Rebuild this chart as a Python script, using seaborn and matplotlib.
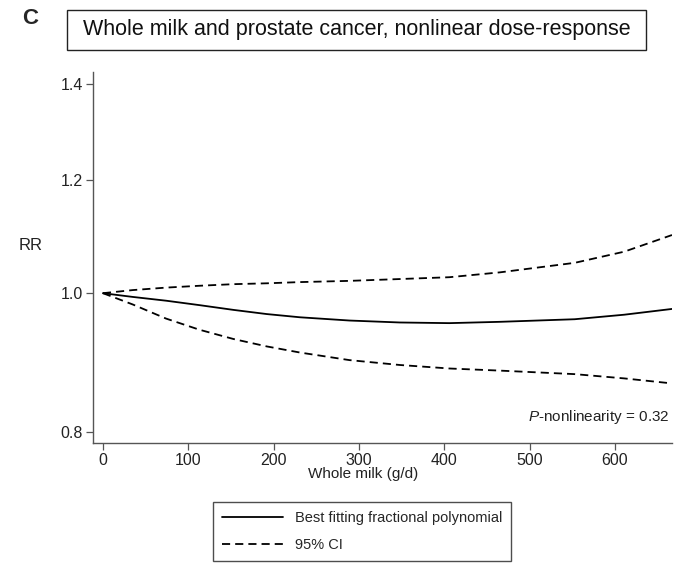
import numpy as np
import pandas as pd
import matplotlib
matplotlib.use("Agg")
import matplotlib.pyplot as plt
import matplotlib.patches as mpatches
from matplotlib.lines import Line2D
import seaborn as sns

# ---- data ----
milk_g_per_day = [0, 35, 74, 113, 153, 192, 231, 289, 348, 406, 465, 553, 611, 667]
rr_fit = [1.000, 0.994, 0.988, 0.981, 0.9735, 0.967, 0.962, 0.957, 0.954, 0.953, 0.955, 0.959, 0.966, 0.975]
rr_upper = [1.000, 1.005, 1.009, 1.012, 1.0146, 1.016, 1.018, 1.020, 1.023, 1.026, 1.034, 1.050, 1.069, 1.098]
rr_lower = [1.000, 0.982, 0.960, 0.943, 0.929, 0.918, 0.909, 0.898, 0.891, 0.886, 0.883, 0.878, 0.872, 0.865]
x_ticks = [0, 100, 200, 300, 400, 500, 600]
y_ticks = [0.8, 1.0, 1.2, 1.4]
y_tick_labels = ["0.8", "1.0", "1.2", "1.4"]
panel_letter = "C"
title_text = "Whole milk and prostate cancer, nonlinear dose-response"
x_label = "Whole milk (g/d)"
y_label = "RR"
p_text = r"$\mathit{P}$-nonlinearity = 0.32"
legend_labels = ["Best fitting fractional polynomial", "95% CI"]

sns.set_theme(style="ticks")
plt.rcParams["font.family"] = ["Liberation Sans", "DejaVu Sans"]
plt.rcParams["mathtext.fontset"] = "custom"
plt.rcParams["mathtext.it"] = "Liberation Sans:italic"
plt.rcParams["mathtext.rm"] = "Liberation Sans"

df = pd.DataFrame({"x": milk_g_per_day, "fit": rr_fit, "upper": rr_upper, "lower": rr_lower})

fig = plt.figure(figsize=(6.75, 5.65), dpi=100)
W, H = 675, 565
left, right, bottom, top = 92.7, 672, 443, 72.4
ax = fig.add_axes([left / W, 1 - bottom / H, (right - left) / W, (bottom - top) / H])

dash = (0, (4.5, 2.8))
sns.lineplot(data=df, x="x", y="fit", ax=ax, color="black", lw=1.3, legend=False)
sns.lineplot(data=df, x="x", y="upper", ax=ax, color="black", lw=1.3, legend=False)
sns.lineplot(data=df, x="x", y="lower", ax=ax, color="black", lw=1.3, legend=False)
ax.lines[1].set_linestyle(dash)
ax.lines[2].set_linestyle(dash)
for ln in ax.lines:
    ln.set_solid_joinstyle("round")
    ln.set_dash_joinstyle("round")

ax.set_yscale("log")
ax.set_xlim(-12, 667)
ax.set_ylim(0.786, 1.426)
ax.set_yticks(y_ticks)
ax.set_yticklabels(y_tick_labels)
ax.yaxis.set_minor_locator(matplotlib.ticker.NullLocator())
ax.set_xticks(x_ticks)
ax.set_xticklabels([str(t) for t in x_ticks])

for s in ["top", "right"]:
    ax.spines[s].set_visible(False)
for s in ["left", "bottom"]:
    ax.spines[s].set_color("#555555")
    ax.spines[s].set_linewidth(1.0)
ax.tick_params(axis="both", length=5, width=0.9, color="#555555", labelsize=11.5,
               labelcolor="#222222", pad=2)

ax.set_xlabel(x_label, fontsize=11, color="#222222")
ax.xaxis.set_label_coords((363 - left) / (right - left), -(474 - bottom) / (bottom - top))
ax.xaxis.label.set_va("center")
ax.set_ylabel(y_label, fontsize=12, color="#222222", rotation=0)
ax.yaxis.set_label_coords((31 - left) / (right - left), (bottom - 246) / (bottom - top))
ax.yaxis.label.set_va("center")
ax.yaxis.label.set_ha("center")

ax.text(0.995, 0.07, p_text, transform=ax.transAxes, ha="right", va="center",
        fontsize=11, color="#222222")

# panel letter and title box
fig.text(22 / W, 1 - 18 / H, panel_letter, fontsize=16, fontweight="bold", ha="left", va="center")
box = mpatches.Rectangle((67 / W, 1 - 50 / H), (646 - 67) / W, 40 / H, transform=fig.transFigure,
                         fill=False, edgecolor="#222222", lw=1.0)
fig.add_artist(box)
fig.text((67 + 646) / 2 / W, 1 - 30 / H, title_text, fontsize=15.5, ha="center", va="center",
         color="#111111")

handles = [Line2D([], [], color="black", lw=1.3),
           Line2D([], [], color="black", lw=1.3, linestyle=dash)]
leg = fig.legend(handles, legend_labels, loc="upper center", bbox_to_anchor=(362 / W, 1 - 502 / H),
                 frameon=True, fancybox=False, fontsize=10.5, handlelength=4.2,
                 borderpad=0.6, labelspacing=0.9, handletextpad=0.8, borderaxespad=0)
leg.get_frame().set_edgecolor("#222222")
leg.get_frame().set_linewidth(1.0)

fig.savefig("out.png", dpi=100)
